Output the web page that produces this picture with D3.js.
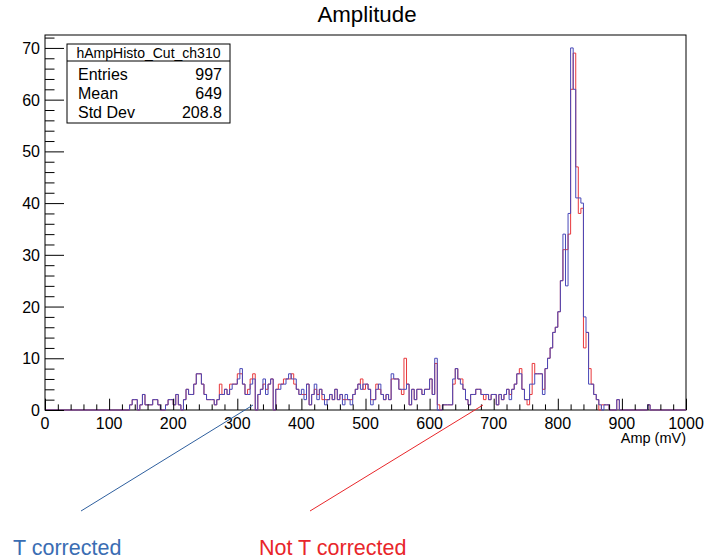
<!DOCTYPE html>
<html><head><meta charset="utf-8">
<script src="https://cdn.jsdelivr.net/npm/d3@7"></script>
<style>body{margin:0;background:#fff}svg{display:block;font-family:"Liberation Sans",Arial,sans-serif}</style>
</head><body>
<svg id="c" width="708" height="559"></svg>
<script>
// bin width 4 mV, 250 bins from 0 to 1000
const binLow = 0, binHigh = 1000, nBins = 250;
const tCorrected = [
0,0,0,0,0,0,0,0,0,0,0,0,0,0,0,0,0,0,0,0,0,0,0,0,0,
0,0,0,0,0,0,0,0,1,2,2,0,1,3,1,1,1,2,2,1,0,0,1,2,2,
1,3,1,0,2,4,3,3,5,7,7,5,3,2,2,2,1,2,3,3,4,3,4,5,5,
6,8,5,3,3,5,6,0,3,4,6,3,5,6,0,4,4,5,5,6,7,6,6,4,3,
4,2,5,1,3,5,2,4,3,1,2,3,2,4,2,3,1,3,2,1,3,4,5,4,5,
5,4,1,2,4,5,3,2,3,2,7,6,6,4,4,4,5,1,4,2,4,4,3,4,4,
6,3,10,0,0,1,1,1,1,6,8,6,5,4,2,1,3,3,4,4,3,3,3,2,3,
3,1,3,2,3,4,2,4,5,7,7,4,2,2,5,5,7,7,7,3,8,10,12,15,16,
19,25,34,24,38,70,62,41,41,40,18,15,5,5,3,2,1,0,1,1,0,0,0,2,0,
0,0,0,0,0,0,0,0,0,0,1,0,0,0,0,0,0,0,0,0,0,0,0,0,0
];
const notTCorrected = [
0,0,0,0,0,0,0,0,0,0,0,0,0,0,0,0,0,0,0,0,0,0,0,0,0,
0,0,0,0,0,0,0,0,1,2,2,0,1,3,1,1,1,2,2,1,0,0,1,2,2,
1,3,1,0,2,4,3,3,5,7,7,5,3,2,2,2,1,2,5,3,4,3,5,5,5,
7,7,5,3,4,6,7,0,3,4,5,4,5,6,0,4,5,5,6,6,6,7,5,4,3,
3,3,5,1,3,4,3,4,2,2,2,3,2,4,2,3,2,2,2,2,3,4,5,6,4,
5,4,2,2,5,4,3,2,3,2,6,6,6,4,3,10,5,1,4,2,4,4,3,4,4,
6,3,9,1,0,1,1,1,1,5,8,6,6,4,2,1,3,3,4,4,3,2,3,2,3,
3,1,3,2,3,4,3,4,5,7,8,4,2,1,3,9,7,7,7,4,8,10,12,15,16,
19,25,31,31,34,62,69,47,38,39,12,15,8,5,3,2,0,1,1,1,0,0,0,2,0,
0,0,0,0,0,0,0,0,0,0,1,0,0,0,0,0,0,0,0,0,0,0,0,0,0
];
const xTicks = [0,100,200,300,400,500,600,700,800,900,1000];
const yTicks = [0,10,20,30,40,50,60,70];
const statsLabels = ["Entries","Mean","Std Dev"];
const statsValues = ["997","649","208.8"];
const histName = "hAmpHisto_Cut_ch310";
const title = "Amplitude";
const xTitle = "Amp (mV)";
const legendNames = ["T corrected","Not T corrected"];

const svg = d3.select("#c");
const L = 45, R = 686, T = 35, B = 410;
const x = d3.scaleLinear().domain([binLow, binHigh]).range([L, R]);
const y = d3.scaleLinear().domain([0, 72.5]).range([B, T]);
const bw = (binHigh - binLow) / nBins;

// frame
svg.append("rect").attr("x", L).attr("y", T).attr("width", R - L).attr("height", B - T)
  .attr("fill", "none").attr("stroke", "#000").attr("stroke-width", 1);

// histograms
function pts(arr){
  const p = arr.map((v,i)=>({x: binLow + i*bw, v}));
  p.push({x: binHigh, v: arr[arr.length-1]});
  return p;
}
const line = d3.line().x(d=>x(d.x)).y(d=>y(d.v)).curve(d3.curveStepAfter);
svg.append("path").datum(pts(notTCorrected)).attr("d", line)
  .attr("fill","none").attr("stroke","#e8383c").attr("stroke-width",1);
svg.append("path").datum(pts(tCorrected)).attr("d", line)
  .attr("fill","none").attr("stroke","#4848b8").attr("stroke-width",1);

// x axis (ticks inside, upward)
const xAxis = d3.axisTop(x).tickValues(d3.range(0, 1001, 20)).tickSize(5.6).tickFormat("");
const gx = svg.append("g").attr("transform", `translate(0,${B})`).call(xAxis);
gx.select(".domain").remove();
gx.selectAll(".tick line").attr("stroke","#000")
  .attr("y2", d => (d % 100 === 0 ? -11.3 : -5.6));
svg.append("g").selectAll("text").data(xTicks).join("text")
  .attr("x", d=>x(d)).attr("y", 429).attr("text-anchor","middle")
  .attr("font-size", 16).text(d=>d);

// y axis (ticks inside, rightward)
const yAxis = d3.axisRight(y).tickValues(d3.range(0, 73, 2)).tickSize(9.5).tickFormat("");
const gy = svg.append("g").attr("transform", `translate(${L},0)`).call(yAxis);
gy.select(".domain").remove();
gy.selectAll(".tick line").attr("stroke","#000")
  .attr("x2", d => (d % 10 === 0 ? 19 : 9.5));
svg.append("g").selectAll("text").data(yTicks).join("text")
  .attr("x", 40).attr("y", d=>y(d)+6).attr("text-anchor","end")
  .attr("font-size", 16).text(d=>d);

// axis title & main title
svg.append("text").attr("x", R).attr("y", 443).attr("text-anchor","end")
  .attr("font-size", 14.5).text(xTitle);
svg.append("text").attr("x", 367).attr("y", 22).attr("text-anchor","middle")
  .attr("font-size", 22.3).text(title);

// stats box
const sx = 67, sy = 44, sw = 163, sh = 79;
svg.append("rect").attr("x", sx).attr("y", sy).attr("width", sw).attr("height", sh)
  .attr("fill","#fff").attr("stroke","#000").attr("stroke-width",1);
svg.append("line").attr("x1", sx).attr("x2", sx+sw).attr("y1", sy+17).attr("y2", sy+17)
  .attr("stroke","#000");
svg.append("text").attr("x", sx+sw/2).attr("y", sy+13.5).attr("text-anchor","middle")
  .attr("font-size", 14).text(histName);
statsLabels.forEach((s,i)=>{
  svg.append("text").attr("x", sx+11).attr("y", sy+36+i*19).attr("font-size",16).text(s);
  svg.append("text").attr("x", sx+sw-8).attr("y", sy+36+i*19).attr("text-anchor","end")
    .attr("font-size",16).text(statsValues[i]);
});

// annotations
svg.append("line").attr("x1",81).attr("y1",511).attr("x2",253).attr("y2",405)
  .attr("stroke","#2e5f9e").attr("stroke-width",1);
svg.append("line").attr("x1",310).attr("y1",511).attr("x2",483).attr("y2",405)
  .attr("stroke","#e8262a").attr("stroke-width",1);
svg.append("text").attr("x",13).attr("y",555).attr("font-size",21.5)
  .attr("fill","#3a6db3").text(legendNames[0]);
svg.append("text").attr("x",259).attr("y",555).attr("font-size",21.5)
  .attr("fill","#e8262a").text(legendNames[1]);
</script>
</body></html>
